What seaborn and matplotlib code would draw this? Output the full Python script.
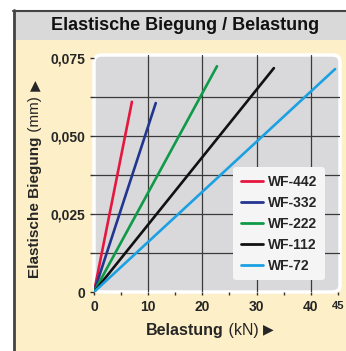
import matplotlib
matplotlib.use("Agg")
import matplotlib.pyplot as plt
from matplotlib.patches import FancyBboxPatch, Rectangle
from matplotlib.lines import Line2D
import pandas as pd
import seaborn as sns

# ---- data ----
MODELS    = ["WF-442", "WF-332", "WF-222", "WF-112", "WF-72"]
LOAD_END  = [7.0, 11.4, 22.7, 33.2, 44.5]        # kN at line end
BEND_END  = [0.061, 0.0606, 0.0724, 0.0718, 0.0715]  # mm at line end
COLORS    = ["#e5173f", "#23368f", "#0f9a48", "#111111", "#1ba1e2"]
X_TICKS   = [0, 10, 20, 30, 40]
Y_TICKS   = [0, 0.025, 0.050, 0.075]
Y_LABELS  = ["0", "0,025", "0,050", "0,075"]

rows = []
for m, xe, ye in zip(MODELS, LOAD_END, BEND_END):
    rows.append({"model": m, "load": 0.0, "bend": 0.0})
    rows.append({"model": m, "load": xe, "bend": ye})
df = pd.DataFrame(rows)

sns.set_theme(style="white")
plt.rcParams["font.family"] = ["Liberation Sans", "DejaVu Sans"]

CREAM = "#fdefc7"
fig = plt.figure(figsize=(3.46, 3.51), dpi=100)
fig.patch.set_facecolor("white")

# panel background / title band / border
fig.patches.append(Rectangle((13 / 346, 0), 1, 1 - 10 / 351, transform=fig.transFigure,
                             facecolor=CREAM, edgecolor="none", zorder=-5))
fig.patches.append(Rectangle((13 / 346, 1 - 40 / 351), 1, 30 / 351, transform=fig.transFigure,
                             facecolor="#d9d9d9", edgecolor="none", zorder=-5))
fig.lines.append(Line2D([13.5 / 346, 13.5 / 346], [0, 1 - 10 / 351], transform=fig.transFigure,
                        color="#444444", lw=2, zorder=-4))
fig.lines.append(Line2D([13 / 346, 1], [1 - 10.5 / 351, 1 - 10.5 / 351], transform=fig.transFigure,
                        color="#444444", lw=1.5, zorder=-4))
fig.text(185 / 346, 1 - 25 / 351, "Elastische Biegung / Belastung", ha="center", va="center",
         fontsize=13, fontweight="bold", color="#111111")

ax = fig.add_axes([94 / 346, 1 - 292 / 351, 246 / 346, 237 / 351])
ax.set_facecolor("none")
ax.add_patch(FancyBboxPatch((0, 0), 1, 1, boxstyle="round,pad=0,rounding_size=0.03",
                            transform=ax.transAxes, facecolor="#d9d9dc", edgecolor="white",
                            lw=2.5, zorder=0, clip_on=False))

for v in [10, 20, 30, 40]:
    ax.axvline(v, color="#3a3a3a", lw=0.9, zorder=1)
for v in [0.0125, 0.025, 0.0375, 0.05, 0.0625]:
    ax.axhline(v, color="#3a3a3a", lw=0.9, zorder=1)

sns.lineplot(data=df, x="load", y="bend", hue="model", palette=COLORS,
             hue_order=MODELS, lw=1.9, ax=ax, zorder=3)

ax.set_xlim(0, 45.4)
ax.set_ylim(0, 0.076)
for s in ax.spines.values():
    s.set_visible(False)

ax.set_xticks(X_TICKS)
ax.set_xticklabels([str(t) for t in X_TICKS], fontweight="bold", fontsize=10)
ax.set_xticks([5, 15, 25, 35, 45], minor=True)
ax.set_yticks(Y_TICKS)
ax.set_yticklabels(Y_LABELS, fontweight="bold", fontsize=10)
ax.set_yticks([0.0125, 0.0375, 0.0625], minor=True)
ax.tick_params(axis="x", which="both", length=2, width=1, color="#333333", pad=4, bottom=True)
ax.tick_params(axis="y", which="both", length=3, width=1, color="#333333", pad=3, left=True)
ax.text(45, -0.0029, "45", ha="center", va="top", fontsize=8, fontweight="bold", clip_on=False)

ax.set_xlabel("")
ax.set_ylabel("")

# axis labels with mixed weight
t1 = fig.text(185 / 346, 1 - 330 / 351, "Belastung", ha="center", va="center",
              fontsize=11.5, fontweight="bold")
t2 = ax.annotate(" (kN) ", xy=(1, 0), xycoords=t1, ha="left", va="bottom", fontsize=11.5)
ax.annotate("▶", xy=(1, 0.1), xycoords=t2, ha="left", va="bottom", fontsize=10,
            family=["DejaVu Sans"])

y1 = fig.text(35 / 346, 1 - 207 / 351, "Elastische Biegung", ha="center", va="center",
              rotation=90, fontsize=11, fontweight="bold")
y2 = ax.annotate(" (mm) ", xy=(0.5, 1), xycoords=y1, ha="center", va="bottom",
                 rotation=90, fontsize=11)
ax.annotate("▲", xy=(0.5, 1), xycoords=y2, ha="center", va="bottom", fontsize=10,
            family=["DejaVu Sans"])

leg = ax.legend(loc="lower right", bbox_to_anchor=(0.94, 0.05), frameon=True,
                fancybox=True, facecolor="#f5f5f5", edgecolor="none", framealpha=1,
                handlelength=1.6, handletextpad=0.4, labelspacing=0.5, borderpad=0.55,
                borderaxespad=0, prop={"weight": "bold", "size": 10})
for line in leg.get_lines():
    line.set_linewidth(2)

fig.savefig("out.png", dpi=100)
